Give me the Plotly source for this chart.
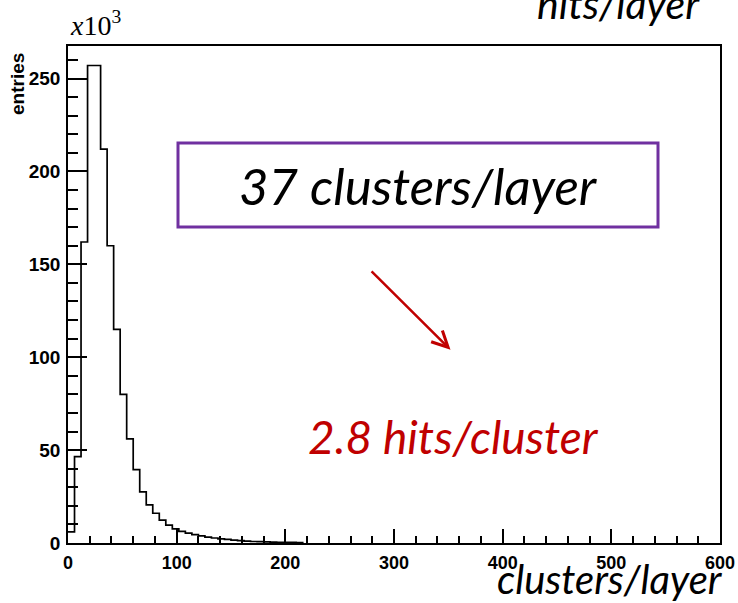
import plotly.graph_objects as go

# Histogram of clusters per layer (units of 10^3 entries), bin width 6
bin_edges = [0, 6, 12, 18, 24, 30, 36, 42, 48, 54, 60, 66, 72, 78, 84, 90, 96, 102,
             108, 114, 120, 126, 132, 138, 144, 150, 156, 162, 168, 174, 180, 186,
             192, 198, 204, 210, 216]
bin_counts = [6, 46.5, 162, 257, 257, 212, 160, 115, 80, 56, 39.5, 27.5, 20.5, 16,
              12.3, 9.6, 7.6, 6.3, 5.3, 4.5, 3.8, 3.2, 2.7, 2.2, 1.9, 1.6, 1.3, 1.0,
              0.8, 0.7, 0.6, 0.5, 0.4, 0.35, 0.3, 0.25]

x_ticks = [0, 100, 200, 300, 400, 500, 600]
y_ticks = [0, 50, 100, 150, 200, 250]

W, H = 738, 603
L, R, T, B = 68, 18, 46, 60
pw, ph = W - L - R, H - T - B


def px(x):
    return (x - L) / pw


def py(y):
    return (H - B - y) / ph


fig = go.Figure()
fig.add_trace(go.Scatter(
    x=bin_edges, y=bin_counts + [0],
    mode="lines", line=dict(shape="hv", color="black", width=1.7),
    hoverinfo="skip", showlegend=False,
))

xfont = dict(family="Liberation Sans", size=18, color="black", weight="bold")
yfont = dict(family="Liberation Sans", size=19, color="black", weight="bold")

fig.update_layout(
    width=W, height=H,
    margin=dict(l=L, r=R, t=T, b=B, pad=0, autoexpand=False),
    paper_bgcolor="white", plot_bgcolor="white",
    showlegend=False,
    xaxis=dict(range=[0, 600], tickvals=x_ticks, ticktext=[str(v) for v in x_ticks],
               showgrid=False, zeroline=False, showline=True, mirror=True,
               linecolor="black", linewidth=1.5, ticks="inside", ticklen=14,
               tickwidth=1.5, tickcolor="black", tickfont=xfont, automargin=False,
               minor=dict(dtick=20, ticks="inside", ticklen=7, tickwidth=1.5,
                          tickcolor="black", showgrid=False),
               ticklabelstandoff=3),
    yaxis=dict(range=[0, 267.5], tickvals=y_ticks, ticktext=[str(v) for v in y_ticks],
               showgrid=False, zeroline=False, showline=True, mirror=True,
               linecolor="black", linewidth=1.5, ticks="inside", ticklen=19,
               tickwidth=1.5, tickcolor="black", tickfont=yfont, automargin=False,
               minor=dict(dtick=10, ticks="inside", ticklen=10, tickwidth=1.5,
                          tickcolor="black", showgrid=False),
               ticklabelstandoff=2),
)

# purple box
fig.add_shape(type="rect", xref="paper", yref="paper",
              x0=px(178), x1=px(658), y0=py(227), y1=py(143),
              line=dict(color="#7030A0", width=3), fillcolor="rgba(0,0,0,0)")

ann = []
ann.append(dict(text="<i>37 clusters/layer</i>", x=px(418), y=py(186),
                font=dict(family="Lato", size=51, color="black")))
ann.append(dict(text="<i>2.8 hits/cluster</i>", x=px(453), y=py(437),
                font=dict(family="Lato", size=46, color="#C00000")))
ann.append(dict(text="<i>clusters/layer</i>", x=px(610), y=py(579),
                font=dict(family="Lato", size=40, color="black")))
ann.append(dict(text="<i>hits/layer</i>", x=px(618), y=py(4),
                font=dict(family="Lato", size=41, color="black")))
ann.append(dict(text="<i>x</i>10<sup>3</sup>", x=px(68), y=py(23), xanchor="left",
                font=dict(family="Liberation Serif", size=28, color="black")))
ann.append(dict(text="<b>entries</b>", x=px(18), y=py(84), textangle=-90,
                font=dict(family="Liberation Sans", size=19, color="black")))
for a in ann:
    a.setdefault("xanchor", "center")
    a.update(xref="paper", yref="paper", yanchor="middle", showarrow=False)
    fig.add_annotation(**a)

# red arrow (tip and tail in data coords)
fig.add_annotation(x=352, y=104, ax=278, ay=147, xref="x", yref="y",
                   axref="x", ayref="y", text="", showarrow=True,
                   arrowhead=5, arrowsize=1.25, arrowwidth=2.5, arrowcolor="#C00000")

fig.write_html("out.html")
